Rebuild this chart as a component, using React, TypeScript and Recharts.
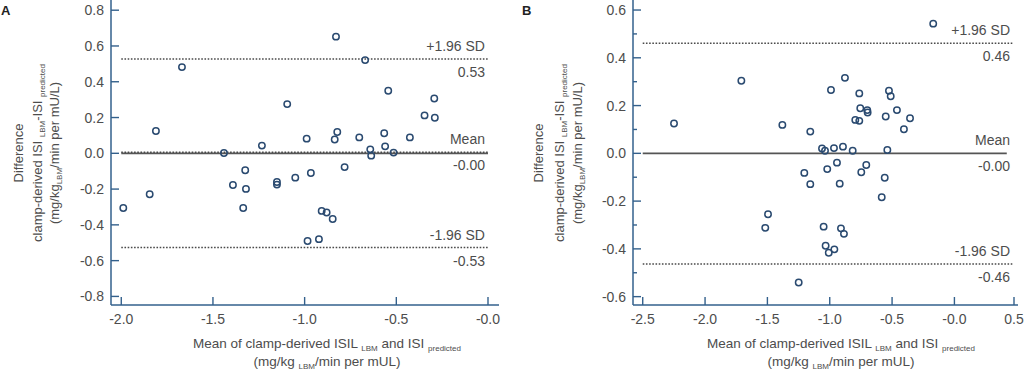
import { ScatterChart, Scatter, XAxis, YAxis, ReferenceLine } from 'recharts'

// Panel A: mean (x) vs difference (y)
const meanA = [-1.989, -1.845, -1.811, -1.669, -1.44, -1.391, -1.324, -1.32, -1.335, -1.233, -1.151, -1.151, -1.095, -1.051, -0.989, -0.966, -0.984, -0.922, -0.907, -0.88, -0.847, -0.836, -0.822, -0.829, -0.782, -0.702, -0.67, -0.642, -0.637, -0.566, -0.561, -0.544, -0.515, -0.426, -0.346, -0.293, -0.29]
const diffA = [-0.306, -0.229, 0.125, 0.482, 0.002, -0.177, -0.095, -0.199, -0.306, 0.043, -0.16, -0.175, 0.275, -0.136, 0.082, -0.11, -0.49, -0.48, -0.322, -0.331, -0.367, 0.077, 0.119, 0.652, -0.077, 0.089, 0.521, 0.022, -0.013, 0.112, 0.039, 0.35, 0.004, 0.089, 0.212, 0.306, 0.199]

// Panel B
const meanB = [-2.249, -1.709, -1.495, -1.517, -1.38, -1.249, -1.204, -1.156, -1.156, -1.062, -1.038, -1.049, -1.033, -1.008, -0.963, -1.02, -0.99, -0.966, -0.942, -0.92, -0.91, -0.886, -0.894, -0.878, -0.816, -0.795, -0.763, -0.763, -0.755, -0.747, -0.707, -0.699, -0.696, -0.583, -0.559, -0.551, -0.538, -0.525, -0.511, -0.461, -0.405, -0.356, -0.17]
const diffB = [0.125, 0.304, -0.255, -0.312, 0.119, -0.541, -0.082, 0.091, -0.129, 0.02, 0.011, -0.307, -0.387, -0.416, -0.402, -0.066, 0.265, 0.022, -0.039, -0.127, -0.314, -0.337, 0.028, 0.316, 0.011, 0.14, 0.136, 0.251, 0.189, -0.079, -0.049, 0.181, 0.171, -0.184, -0.102, 0.154, 0.014, 0.262, 0.239, 0.181, 0.101, 0.147, 0.543]

const xTicksA = [-2, -1.5, -1, -0.5, 0]
const xTicksB = [-2.5, -2, -1.5, -1, -0.5, 0, 0.5]
const yTicksA = [-0.8, -0.7, -0.6, -0.5, -0.4, -0.3, -0.2, -0.1, 0, 0.1, 0.2, 0.3, 0.4, 0.5, 0.6, 0.7, 0.8]
const yTicksB = [-0.6, -0.5, -0.4, -0.3, -0.2, -0.1, 0, 0.1, 0.2, 0.3, 0.4, 0.5, 0.6]

// limits of agreement: upper, mean, lower
const limitNames = ['+1.96 SD', 'Mean', '-1.96 SD']
const limitsA = [0.527, 0.006, -0.527]
const limitLabelsA = ['0.53', '-0.00', '-0.53']
const limitsB = [0.461, 0, -0.463]
const limitLabelsB = ['0.46', '-0.00', '-0.46']

const AXIS = '#33608c'
const DOT = '#2a4a70'
const TEXT = '#4d4d4d'
const LINE = '#4a4a4a'
const FONT = "'Liberation Sans', Arial, sans-serif"

const fmtX = (v: number) => (v === 0 ? '-0.0' : v.toFixed(1))
const fmtY = (v: number) => (Math.abs(v) < 1e-9 ? '0.0' : v.toFixed(1))

function YTick({ x, y, payload }: any) {
  const major = Math.round(payload.value * 10) % 2 === 0
  return (
    <g>
      <line x1={x} x2={x + (major ? 8 : 4)} y1={y} y2={y} stroke={AXIS} strokeWidth={1.4} />
      {major && (
        <text x={x - 7} y={y + 5} textAnchor="end" fontSize={14} fontFamily={FONT} fill={TEXT}>
          {fmtY(payload.value)}
        </text>
      )}
    </g>
  )
}

function XTick({ x, y, payload }: any) {
  return (
    <g>
      <line x1={x} x2={x} y1={y} y2={y - 8} stroke={AXIS} strokeWidth={1.4} />
      <text x={x} y={y + 19} textAnchor="middle" fontSize={14} fontFamily={FONT} fill={TEXT}>
        {fmtX(payload.value)}
      </text>
    </g>
  )
}

function LimitTag({ viewBox, top, bottom }: any) {
  if (!viewBox) return null
  const right = viewBox.x + viewBox.width - 3
  const y = viewBox.y
  return (
    <g fontFamily={FONT} fontSize={14} fill={TEXT}>
      <text x={right} y={y - 8} textAnchor="end">{top}</text>
      <text x={right} y={y + 18} textAnchor="end">{bottom}</text>
    </g>
  )
}

function YTitle({ lines }: any) {
  const cy = 153
  const sub = { fontSize: 8 }
  return (
    <g fontFamily={FONT} fontSize={13} fill={TEXT} textAnchor="middle">
      <text transform={`translate(${lines[0]},${cy}) rotate(-90)`}>Difference</text>
      <text transform={`translate(${lines[1]},${cy}) rotate(-90)`}>
        clamp-derived ISI <tspan {...sub} dy={3}>LBM</tspan>
        <tspan dy={-3}>-ISI </tspan>
        <tspan {...sub} dy={3}>predicted</tspan>
      </text>
      <text transform={`translate(${lines[2]},${cy}) rotate(-90)`}>
        (mg/kg<tspan {...sub} dy={3}>LBM</tspan>
        <tspan dy={-3}>/min per mU/L)</tspan>
      </text>
    </g>
  )
}

function XTitle({ cx }: any) {
  const sub = { fontSize: 8 }
  return (
    <g fontFamily={FONT} fontSize={13.5} fill={TEXT} textAnchor="middle">
      <text x={cx} y={348}>
        Mean of clamp-derived ISIL <tspan {...sub} dy={3}>LBM</tspan>
        <tspan dy={-3}> and ISI </tspan>
        <tspan {...sub} dy={3}>predicted</tspan>
      </text>
      <text x={cx} y={366}>
        (mg/kg <tspan {...sub} dy={3}>LBM</tspan>
        <tspan dy={-3}>/min per mUL)</tspan>
      </text>
    </g>
  )
}

const dotShape = (p: any) => <circle cx={p.cx} cy={p.cy} r={3.2} fill="none" stroke={DOT} strokeWidth={1.5} />

interface PanelProps {
  width: number
  axisWidth: number
  right: number
  xs: number[]
  ys: number[]
  xDomain: number[]
  yDomain: number[]
  xTicks: number[]
  yTicks: number[]
  limits: number[]
  limitLabels: string[]
  lineFrom: number
  lineTo: number
  meanTo: number
  dottedMean: boolean
  titleX: number
  titleY: number[]
}

function Panel(props: PanelProps) {
  const data = props.xs.map((x, i) => ({ x, y: props.ys[i] }))
  const seg = (y: number, to: number) => [
    { x: props.lineFrom, y },
    { x: to, y },
  ]
  const dotted = { stroke: LINE, strokeWidth: 1.5, strokeDasharray: '1.6 1.6' }
  return (
    <ScatterChart width={props.width} height={372} margin={{ top: 0, right: props.right, bottom: 0, left: 0 }}>
      <XAxis
        type="number"
        dataKey="x"
        domain={props.xDomain}
        ticks={props.xTicks}
        allowDataOverflow
        height={67}
        tickSize={0}
        tickMargin={0}
        tickLine={false}
        axisLine={{ stroke: AXIS, strokeWidth: 1.5 }}
        tick={<XTick />}
        label={<XTitle cx={props.titleX} />}
      />
      <YAxis
        type="number"
        dataKey="y"
        domain={props.yDomain}
        ticks={props.yTicks}
        allowDataOverflow
        width={props.axisWidth}
        tickSize={0}
        tickMargin={0}
        tickLine={false}
        axisLine={{ stroke: AXIS, strokeWidth: 1.5 }}
        tick={<YTick />}
        label={<YTitle lines={props.titleY} />}
      />
      <ReferenceLine segment={seg(0, props.meanTo)} stroke="#555" strokeWidth={1.7} />
      <ReferenceLine
        segment={seg(props.limits[0], props.lineTo)}
        {...dotted}
        label={<LimitTag top={limitNames[0]} bottom={props.limitLabels[0]} />}
      />
      <ReferenceLine
        segment={seg(props.limits[1], props.lineTo)}
        {...dotted}
        stroke={props.dottedMean ? LINE : 'none'}
        label={<LimitTag top={limitNames[1]} bottom={props.limitLabels[1]} />}
      />
      <ReferenceLine
        segment={seg(props.limits[2], props.lineTo)}
        {...dotted}
        label={<LimitTag top={limitNames[2]} bottom={props.limitLabels[2]} />}
      />
      <Scatter data={data} shape={dotShape} isAnimationActive={false} />
    </ScatterChart>
  )
}

const letter = (left: number): React.CSSProperties => ({
  position: 'absolute',
  left,
  top: 3,
  fontFamily: FONT,
  fontWeight: 'bold',
  fontSize: 13,
  color: '#222',
})

export default function App() {
  return (
    <div style={{ position: 'absolute', left: 0, top: 0, width: 1024, height: 372, background: '#fff', display: 'flex' }}>
      <div style={letter(1)}>A</div>
      <div style={letter(522)}>B</div>
      <Panel
        width={520}
        axisWidth={111}
        right={21}
        xs={meanA}
        ys={diffA}
        xDomain={[-2.056, 0.06]}
        yDomain={[-0.848, 0.857]}
        xTicks={xTicksA}
        yTicks={yTicksA}
        limits={limitsA}
        limitLabels={limitLabelsA}
        lineFrom={-2}
        lineTo={0}
        meanTo={0}
        dottedMean={true}
        titleX={327}
        titleY={[23, 42, 59]}
      />
      <Panel
        width={504}
        axisWidth={113}
        right={6}
        xs={meanB}
        ys={diffB}
        xDomain={[-2.578, 0.51]}
        yDomain={[-0.635, 0.642]}
        xTicks={xTicksB}
        yTicks={yTicksB}
        limits={limitsB}
        limitLabels={limitLabelsB}
        lineFrom={-2.5}
        lineTo={0.47}
        meanTo={0.42}
        dottedMean={false}
        titleX={321}
        titleY={[23, 44, 62]}
      />
    </div>
  )
}
